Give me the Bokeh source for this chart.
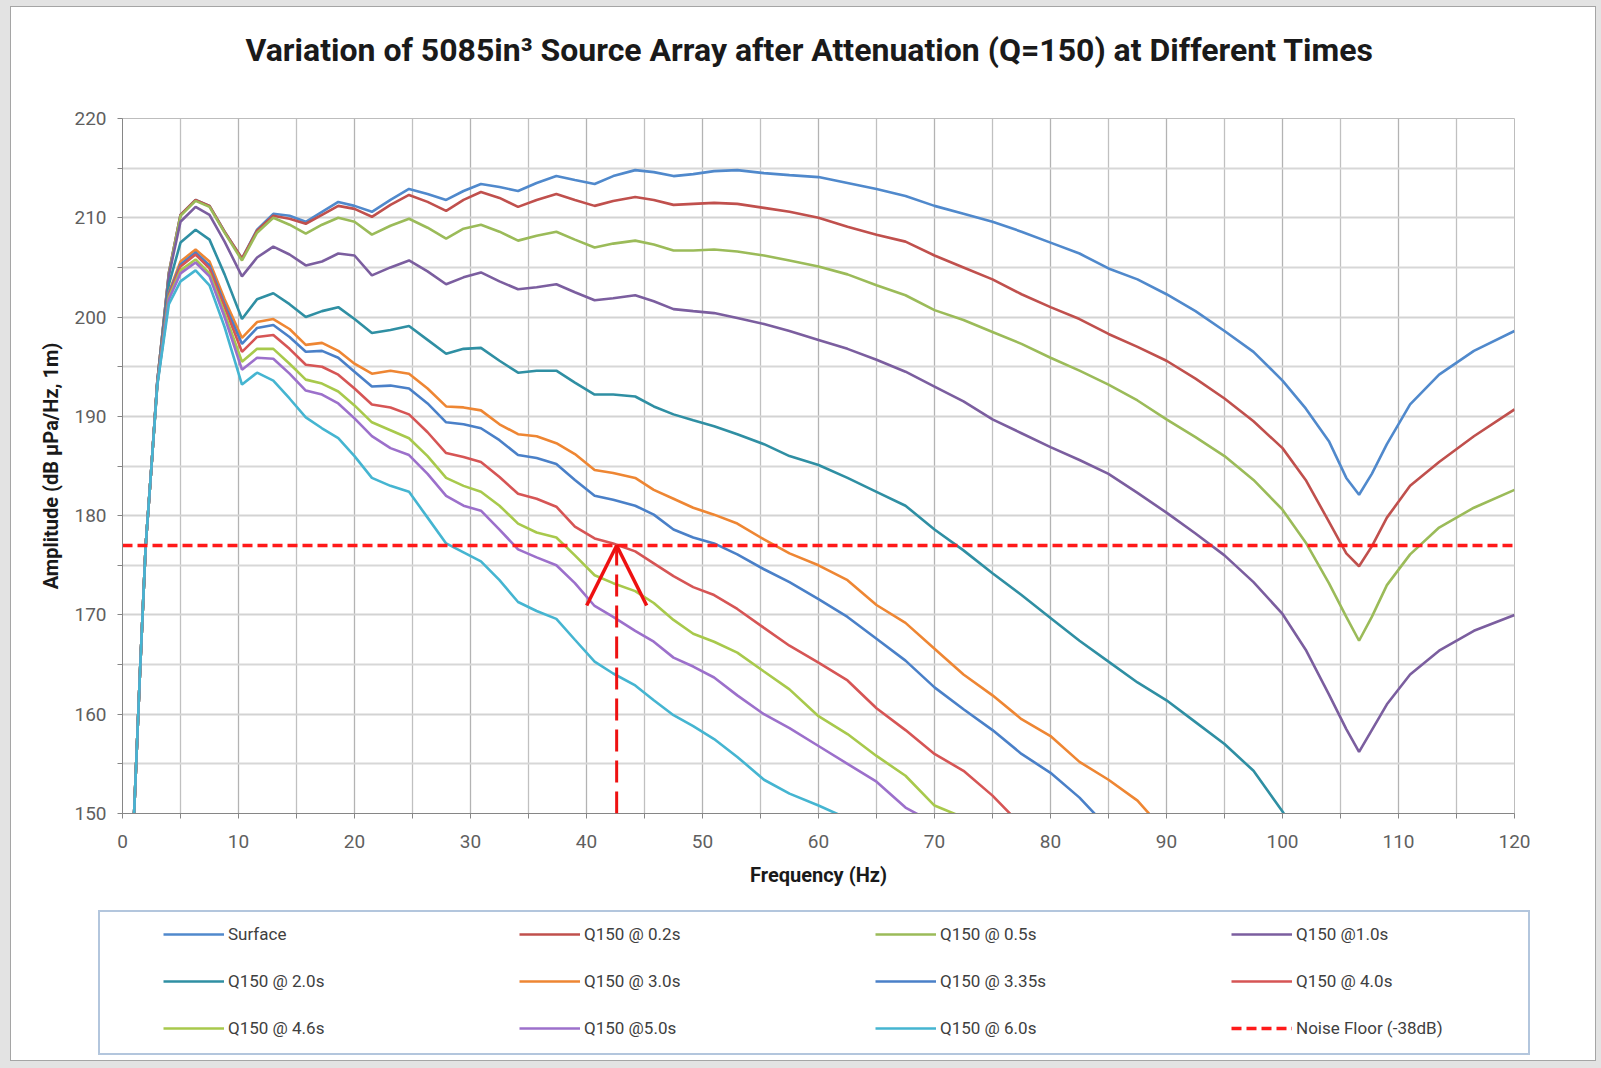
from bokeh.plotting import figure
from bokeh.models import (FixedTicker, Legend, LegendItem, Arrow, OpenHead, Column,
                          ColumnDataSource, Title)
from bokeh.embed import file_html
from bokeh.resources import INLINE

# ---------------- data ----------------
freq_hz = [1.0, 1.5, 2, 2.5, 3, 4, 5, 6.3, 7.5, 8.8, 10.3, 11.6, 13, 14.4, 15.8, 17.2,
           18.6, 20, 21.5, 23.1, 24.7, 26.3, 27.9, 29.4, 30.9, 32.5, 34.1, 35.7, 37.4,
           39, 40.7, 42.3, 44.2, 45.8, 47.5, 49.2, 51, 53, 55.3, 57.5, 60, 62.5, 65,
           67.5, 70, 72.5, 75, 77.5, 80, 82.5, 85, 87.5, 90, 92.5, 95, 97.5, 100, 102,
           104, 105.5, 106.6, 107.7, 109, 111, 113.5, 116.5, 120]

surface = [150, 164, 177, 185, 193.5, 204.5, 210.3, 211.8, 211.2, 208.6,
           205.9, 208.8, 210.4, 210.2, 209.6, 210.6, 211.6, 211.2, 210.6, 211.8,
           212.9, 212.4, 211.8, 212.7, 213.4, 213.1, 212.7, 213.5, 214.2, 213.8,
           213.4, 214.2, 214.8, 214.6, 214.2, 214.4, 214.7, 214.8, 214.5, 214.3,
           214.1, 213.5, 212.9, 212.2, 211.2, 210.4, 209.6, 208.6, 207.5, 206.4,
           204.9, 203.8, 202.3, 200.6, 198.6, 196.5, 193.6, 190.8, 187.5, 183.8,
           182.1, 184.2, 187.2, 191.2, 194.2, 196.6, 198.6]
q_02s = [150, 164, 177, 185, 193.5, 204.5, 210.3, 211.8, 211.2, 208.6,
         205.9, 208.7, 210.2, 209.9, 209.4, 210.3, 211.2, 210.9, 210.1, 211.3,
         212.3, 211.6, 210.7, 211.8, 212.6, 212.0, 211.1, 211.8, 212.4, 211.8,
         211.2, 211.7, 212.1, 211.8, 211.3, 211.4, 211.5, 211.4, 211.0, 210.6,
         210.0, 209.1, 208.3, 207.6, 206.2, 205.0, 203.8, 202.3, 201.0, 199.8,
         198.3, 197.0, 195.6, 193.8, 191.8, 189.5, 186.8, 183.6, 179.4, 176.2,
         174.9, 176.9, 179.8, 183.0, 185.4, 188.0, 190.7]
q_05s = [150, 164, 177, 185, 193.5, 204.4, 210.2, 211.7, 211.1, 208.5,
         205.7, 208.5, 210.0, 209.3, 208.4, 209.3, 210.0, 209.6, 208.3, 209.2,
         209.9, 209.0, 207.9, 208.9, 209.3, 208.6, 207.7, 208.2, 208.6, 207.8,
         207.0, 207.4, 207.7, 207.3, 206.7, 206.7, 206.8, 206.6, 206.2, 205.7,
         205.1, 204.3, 203.2, 202.2, 200.7, 199.7, 198.5, 197.3, 195.9, 194.6,
         193.2, 191.6, 189.7, 187.9, 186.0, 183.6, 180.6, 177.3, 173.2, 169.8,
         167.4, 169.8, 173.0, 176.1, 178.8, 180.8, 182.6]
q_10s = [150, 164, 177, 185, 193.5, 204.2, 209.6, 211.1, 210.3, 207.6,
         204.1, 206.0, 207.1, 206.3, 205.2, 205.6, 206.4, 206.2, 204.2, 205.0,
         205.7, 204.6, 203.3, 204.0, 204.5, 203.6, 202.8, 203.0, 203.3, 202.5,
         201.7, 201.9, 202.2, 201.6, 200.8, 200.6, 200.4, 199.9, 199.3, 198.6,
         197.7, 196.8, 195.7, 194.5, 193.0, 191.5, 189.7, 188.3, 186.9, 185.6,
         184.2, 182.3, 180.3, 178.2, 176.0, 173.3, 170.1, 166.5, 162.0, 158.5,
         156.2, 158.4, 161.0, 164.0, 166.4, 168.4, 170.0]
q_20s = [150, 164, 177, 185, 193.4, 203.3, 207.5, 208.8, 207.8, 204.3,
         199.8, 201.8, 202.4, 201.3, 200.0, 200.6, 201.0, 199.8, 198.4, 198.7,
         199.1, 197.7, 196.3, 196.8, 196.9, 195.6, 194.4, 194.6, 194.6, 193.4,
         192.2, 192.2, 192.0, 191.0, 190.2, 189.6, 189.0, 188.2, 187.2, 186.0,
         185.1, 183.8, 182.4, 181.0, 178.6, 176.5, 174.2, 172.0, 169.7, 167.4,
         165.3, 163.2, 161.4, 159.2, 157.0, 154.3, 150.2, 146.5]
q_30s = [150, 164, 177, 185, 193.3, 202.5, 205.6, 206.8, 205.6, 201.8,
         197.9, 199.5, 199.8, 198.8, 197.2, 197.4, 196.6, 195.3, 194.3, 194.6,
         194.3, 192.8, 191.0, 190.9, 190.6, 189.2, 188.2, 188.0, 187.3, 186.2,
         184.6, 184.3, 183.8, 182.6, 181.7, 180.8, 180.1, 179.2, 177.6, 176.2,
         175.0, 173.5, 171.0, 169.2, 166.6, 164.0, 161.9, 159.5, 157.8, 155.2,
         153.4, 151.3, 148.0]
q_335s = [150, 164, 177, 185, 193.3, 202.4, 205.3, 206.5, 205.2, 201.3,
          197.3, 198.9, 199.2, 198.0, 196.5, 196.6, 195.9, 194.5, 193.0, 193.1,
          192.8, 191.3, 189.4, 189.2, 188.8, 187.6, 186.1, 185.8, 185.2, 183.6,
          182.0, 181.6, 181.0, 180.1, 178.6, 177.8, 177.2, 176.1, 174.6, 173.3,
          171.6, 169.8, 167.6, 165.4, 162.7, 160.5, 158.4, 156.0, 154.1, 151.6,
          148.5]
q_40s = [150, 164, 177, 185, 193.3, 202.2, 205.1, 206.3, 204.9, 201.0,
         196.5, 198.0, 198.2, 196.8, 195.2, 195.0, 194.2, 192.8, 191.2, 190.9,
         190.2, 188.4, 186.3, 185.9, 185.4, 183.9, 182.2, 181.7, 180.9, 178.9,
         177.7, 177.2, 176.4, 175.2, 173.9, 172.8, 172.0, 170.6, 168.7, 166.9,
         165.2, 163.4, 160.6, 158.4, 156.0, 154.3, 151.8, 148.8]
q_46s = [150, 164, 177, 185, 193.2, 202.0, 204.7, 205.8, 204.4, 200.4,
         195.5, 196.8, 196.8, 195.3, 193.7, 193.3, 192.5, 191.1, 189.4, 188.6,
         187.8, 186.0, 183.8, 183.0, 182.4, 181.0, 179.2, 178.3, 177.8, 176.0,
         174.0, 173.2, 172.4, 171.2, 169.5, 168.1, 167.3, 166.2, 164.3, 162.5,
         159.8, 158.0, 155.8, 153.8, 150.8, 149.6]
q_50s = [150, 164, 177, 185, 193.2, 201.8, 204.4, 205.5, 204.1, 200.0,
         194.7, 195.9, 195.8, 194.3, 192.6, 192.2, 191.3, 189.8, 188.0, 186.8,
         186.1, 184.2, 182.0, 181.0, 180.5, 178.6, 176.6, 175.8, 175.0, 173.2,
         170.9, 169.8, 168.4, 167.3, 165.7, 164.8, 163.7, 161.9, 160.0, 158.6,
         156.8, 155.0, 153.2, 150.6, 149.0]
q_60s = [150, 164, 177, 185, 193.1, 201.3, 203.6, 204.7, 203.2, 199.0,
         193.2, 194.4, 193.6, 191.8, 189.9, 188.8, 187.8, 186.0, 183.8, 183.0,
         182.4, 179.8, 177.2, 176.3, 175.4, 173.5, 171.3, 170.4, 169.6, 167.5,
         165.3, 164.1, 162.9, 161.4, 159.9, 158.8, 157.5, 155.7, 153.4, 152.0,
         150.8, 149.5]

series_names = ["Surface", "Q150 @ 0.2s", "Q150 @ 0.5s", "Q150 @1.0s",
                "Q150 @ 2.0s", "Q150 @ 3.0s", "Q150 @ 3.35s", "Q150 @ 4.0s",
                "Q150 @ 4.6s", "Q150 @5.0s", "Q150 @ 6.0s"]
series_values = [surface, q_02s, q_05s, q_10s, q_20s, q_30s, q_335s, q_40s,
                 q_46s, q_50s, q_60s]
series_colors = ["#5089CC", "#C0504D", "#9BBB59", "#7B5E9F", "#2F8FA3", "#EE8633",
                 "#4A80C8", "#D65555", "#A8C94C", "#9C70CB", "#45B5D1"]

noise_floor_name = "Noise Floor (-38dB)"
noise_floor_freq = [0, 120]
noise_floor_db = [177, 177]
arrow_freq_hz = 42.6

x_ticks = list(range(0, 121, 10))
x_minor = list(range(5, 120, 10))
y_ticks = list(range(150, 221, 10))
y_minor = list(range(155, 220, 10))

title_text = "Variation of 5085in\u00b3 Source Array after Attenuation (Q=150) at Different Times"

# ---------------- main chart ----------------
FONT = "Roboto"
p = figure(width=1584, height=888, x_range=(0, 120), y_range=(150, 220),
           output_backend="svg", toolbar_location=None, title=None,
           min_border_left=111, min_border_right=81, min_border_top=111,
           min_border_bottom=82, frame_align=False)
p.border_fill_color = "white"
p.background_fill_color = "white"
p.outline_line_color = "#bdbdbd"

# spacer slot next to the frame, then the real title above it
p.add_layout(Title(text=" ", text_font_size="20px", standoff=26), "above")
p.add_layout(Title(text=title_text, align="left", offset=123, text_font=FONT,
                   text_font_style="bold", text_font_size="32px",
                   text_color="#1a1a1a", standoff=0), "above")

for ax in (p.xaxis[0], p.yaxis[0]):
    ax.axis_line_color = "#868686"
    ax.major_tick_line_color = "#868686"
    ax.minor_tick_line_color = "#868686"
    ax.major_tick_out = 5
    ax.major_tick_in = 0
    ax.minor_tick_out = 5
    ax.minor_tick_in = 0
    ax.major_label_text_font = FONT
    ax.major_label_text_font_size = "19px"
    ax.major_label_text_color = "#5f5f5f"
    ax.axis_label_text_font = FONT
    ax.axis_label_text_font_style = "bold"
    ax.axis_label_text_font_size = "20px"
    ax.axis_label_text_color = "#1a1a1a"

p.xaxis.ticker = FixedTicker(ticks=x_ticks, minor_ticks=x_minor)
p.yaxis.ticker = FixedTicker(ticks=y_ticks, minor_ticks=y_minor)
p.xaxis.axis_label = "Frequency (Hz)"
p.yaxis.axis_label = "Amplitude (dB \u00b5Pa/Hz, 1m)"
p.xaxis.major_label_standoff = 16
p.yaxis.major_label_standoff = 11
p.xaxis.axis_label_standoff = 12
p.yaxis.axis_label_standoff = 8

p.xgrid.grid_line_color = "#b3b3b3"
p.xgrid.grid_line_width = 1.3
p.xgrid.minor_grid_line_color = "#c0c0c0"
p.xgrid.minor_grid_line_width = 1.3
p.ygrid.grid_line_color = "#d3d3d3"
p.ygrid.grid_line_width = 2.2
p.ygrid.minor_grid_line_color = "#d7d7d7"
p.ygrid.minor_grid_line_width = 2.2

sources = []
for name, vals, color in zip(series_names, series_values, series_colors):
    src = ColumnDataSource(dict(x=freq_hz[:len(vals)], y=vals))
    sources.append((name, src, color, dict(line_width=2.6)))
    p.line("x", "y", source=src, line_color=color, line_width=2.6)

nf_src = ColumnDataSource(dict(x=noise_floor_freq, y=noise_floor_db))
p.line("x", "y", source=nf_src, line_color="#FF1A1A", line_width=3.5, line_dash="10 5")
sources.append((noise_floor_name, nf_src, "#FF1A1A", dict(line_width=3.5, line_dash="10 5")))

p.add_layout(Arrow(end=OpenHead(size=60, line_color="#EE1111", line_width=3.5),
                   x_start=arrow_freq_hz, y_start=150, x_end=arrow_freq_hz,
                   y_end=noise_floor_db[0],
                   line_color="#EE1111", line_width=3, line_dash="22 9"))

# ---------------- legend box ----------------
LW, LH = 1428, 141
pl = figure(width=LW, height=LH, x_range=(0, 120), y_range=(150, 220),
            output_backend="svg", toolbar_location=None,
            min_border_left=22, min_border_right=14, min_border_top=0,
            min_border_bottom=0, margin=(17, 67, 7, 89), frame_align=False,
            styles={"outline": "2px solid #b3c6dd"})
pl.axis.visible = False
pl.grid.visible = False
pl.outline_line_color = None
pl.border_fill_color = "white"
pl.background_fill_color = "white"

items = []
for name, src, color, kw in sources:
    r = pl.line("x", "y", source=src, line_color=color, visible=False, **kw)
    items.append(LegendItem(label=name, renderers=[r]))

legend = Legend(items=items, orientation="horizontal", ncols=4,
                location=(41, 13), padding=0, spacing=23, margin=0,
                glyph_width=61, glyph_height=24, label_height=24,
                label_width=268, label_standoff=4,
                label_text_font=FONT, label_text_font_size="17px",
                label_text_color="#404040",
                border_line_color=None, background_fill_alpha=0,
                inactive_fill_alpha=0)
pl.add_layout(legend)

inner = Column(children=[p, pl], spacing=0, margin=(7, 6, 8, 11),
               styles={"outline": "1.5px solid #a5a5a5", "background-color": "white"})
page = Column(children=[inner], width=1601, height=1068,
              styles={"background-color": "#e3e3e3"})

open("out.html", "w").write(file_html(page, INLINE))
